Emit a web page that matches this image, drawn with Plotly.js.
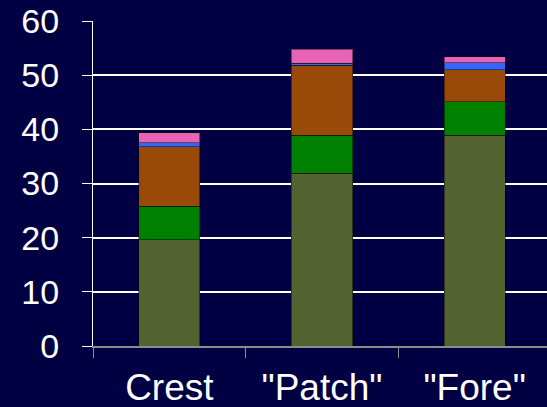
<!DOCTYPE html>
<html>
<head>
<meta charset="utf-8">
<script src="https://cdn.plot.ly/plotly-3.0.1.min.js"></script>
<style>
  html, body { margin: 0; padding: 0; background: #010042; }
  #chart { width: 547px; height: 407px; }
</style>
</head>
<body>
<div id="chart"></div>
<script>
// Sites along the x axis
const sites = ['Crest', '"Patch"', '"Fore"'];

// Stacked components, bottom to top
const olive = [19.6, 31.9, 38.9];
const green = [6.2, 7.0, 6.2];
const brown = [11.0, 12.9, 5.9];
const blue  = [0.7, 0.4, 1.3];
const pink  = [1.9, 2.6, 1.1];

const yTicks = [0, 10, 20, 30, 40, 50, 60];

const seriesList = [
  { y: olive, color: '#546230' },
  { y: green, color: '#008000' },
  { y: brown, color: '#994A08' },
  { y: blue,  color: '#3366FF' },
  { y: pink,  color: '#E963B4' }
];

const traces = seriesList.map(s => ({
  type: 'bar',
  x: sites,
  y: s.y,
  width: 0.4,
  marker: { color: s.color, line: { color: 'rgba(0,0,0,0.45)', width: 1 } },
  hoverinfo: 'skip'
}));

const layout = {
  width: 547,
  height: 407,
  barmode: 'stack',
  showlegend: false,
  paper_bgcolor: '#010042',
  plot_bgcolor: '#010042',
  margin: { l: 93, r: 0, t: 21, b: 61 },
  font: { family: 'Liberation Sans, Arial, sans-serif', color: '#ffffff' },
  xaxis: {
    type: 'category',
    range: [-0.5, 2.474],
    showline: true,
    linecolor: '#8c8c8c',
    linewidth: 2,
    ticks: 'outside',
    tickson: 'boundaries',
    ticklen: 10,
    tickwidth: 1,
    tickcolor: '#8c8c8c',
    showgrid: false,
    ticklabelstandoff: 8,
    tickfont: { size: 37, color: '#ffffff' }
  },
  yaxis: {
    range: [0, 60],
    tickvals: yTicks,
    ticktext: yTicks.map(String),
    showline: true,
    linecolor: '#ffffff',
    linewidth: 1,
    ticks: 'outside',
    ticklen: 10,
    tickwidth: 1,
    tickcolor: '#ffffff',
    showgrid: true,
    gridcolor: '#ffffff',
    gridwidth: 2,
    zeroline: false,
    ticklabelstandoff: 16,
    tickfont: { size: 34, color: '#ffffff' }
  }
};

Plotly.newPlot('chart', traces, layout, { staticPlot: true, displayModeBar: false });
</script>
</body>
</html>
